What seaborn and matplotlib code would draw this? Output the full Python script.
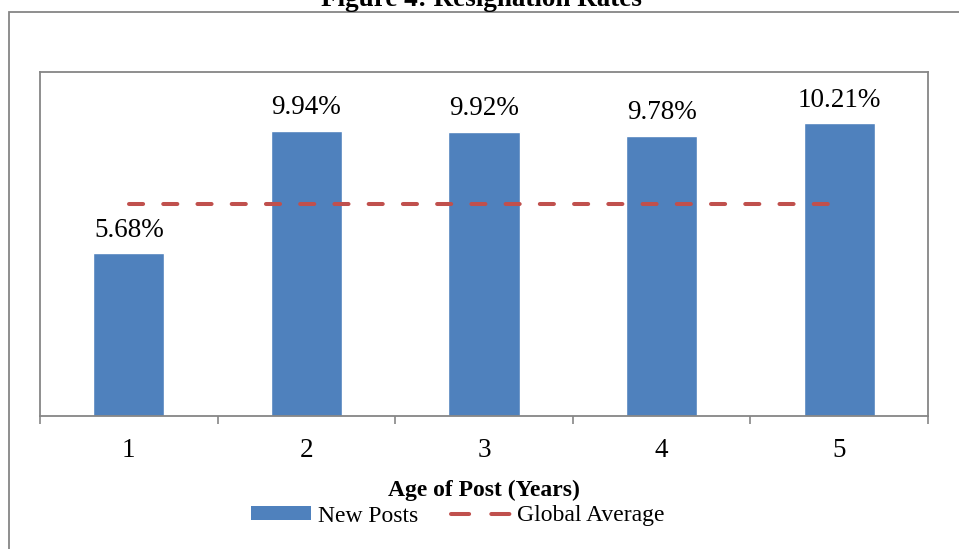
import numpy as np
import matplotlib
matplotlib.use('Agg')
import matplotlib.pyplot as plt
import seaborn as sns
from matplotlib.patches import Patch, Rectangle
from matplotlib.lines import Line2D

# data
ages = ['1', '2', '3', '4', '5']
new_posts = [5.68, 9.94, 9.92, 9.78, 10.21]
global_avg = [7.38, 7.38, 7.38, 7.38, 7.38]

BLUE = '#4F81BD'
RED = '#C0504D'
GREY = '#868686'

sns.set_style('white')
plt.rcParams['font.family'] = ['Liberation Serif', 'DejaVu Serif']
plt.rcParams['text.color'] = 'black'
plt.rcParams['xtick.color'] = 'black'
plt.rcParams['axes.labelcolor'] = 'black'

fig = plt.figure(figsize=(9.59, 5.49), dpi=100)
ax = fig.add_axes([40/959, 1 - 416/549, 888/959, 344/549])

sns.barplot(x=ages, y=new_posts, color=BLUE, width=0.4, saturation=1, ax=ax)
ln, = ax.plot(np.arange(len(ages)), global_avg, color=RED, lw=2.9,
              solid_capstyle='round', dash_capstyle='round')
ln.set_dashes([3.5, 5.0])

for i, v in enumerate(new_posts):
    ax.annotate(f'{v:.2f}%', (i, v), xytext=(0, 12), textcoords='offset points',
                ha='center', va='baseline', fontsize=19.5)

ax.set_ylim(0, 12)
ax.set_xlim(-0.5, 4.5)
ax.set_yticks([])
ax.set_xticks(np.arange(-0.5, 5, 1), minor=True)
ax.tick_params(axis='x', which='minor', length=6, width=1.2, color=GREY, direction='out', bottom=True)
ax.tick_params(axis='x', which='major', length=0, labelsize=19.5, pad=16)
for s in ax.spines.values():
    s.set_color(GREY)
    s.set_linewidth(1.3)
ax.set_xlabel('Age of Post (Years)', fontsize=17, fontweight='bold', labelpad=12)
ax.set_ylabel('')

handles = [Patch(facecolor=BLUE, edgecolor='none'),
           Line2D([0], [0], color=RED, lw=2.9, dashes=[4.5, 5.5], dash_capstyle='round')]
fig.legend(handles, ['New Posts', 'Global Average'], loc='center', ncol=2,
           bbox_to_anchor=(458/959, 1 - 516/549), frameon=False, fontsize=17,
           handlelength=2.5, handleheight=0.55, columnspacing=1.4, handletextpad=0.3)

fig.text(481/959, 1 - 6/549, 'Figure 4: Resignation Rates', ha='center', va='baseline',
         fontsize=19.5, fontweight='bold')

fig.patches.append(Rectangle((9/959, -0.05), 1.2, 1 - 12/549 + 0.05, transform=fig.transFigure,
                             fill=False, edgecolor=GREY, lw=1.3))

fig.savefig('out.png', dpi=100)
